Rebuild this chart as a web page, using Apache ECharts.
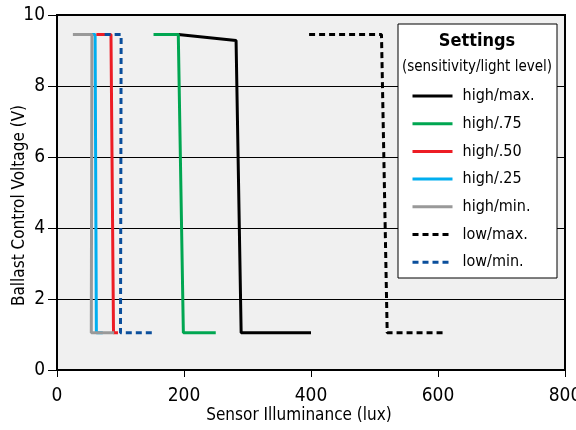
<!DOCTYPE html>
<html>
<head>
<meta charset="utf-8">
<script src="https://cdn.jsdelivr.net/npm/echarts@6/dist/echarts.min.js"></script>
<style>
  html, body { margin: 0; padding: 0; background: #fff; }
  #chart { width: 576px; height: 430px; }
</style>
</head>
<body>
<div id="chart"></div>
<script>
// [lux, volts]
var highMax = [[191, 9.45], [282, 9.28], [290, 1.05], [400, 1.05]];
var high75  = [[152, 9.45], [191, 9.45], [199, 1.05], [250, 1.05]];
var high50  = [[62, 9.45], [85, 9.45], [89, 1.05], [96, 1.05]];
var high25  = [[55, 9.45], [60, 9.45], [62, 1.05], [72, 1.05]];
var highMin = [[25, 9.45], [55, 9.45], [54, 1.05], [90, 1.05]];
var lowMax  = [[397, 9.45], [511, 9.45], [520, 1.05], [612, 1.05]];
var lowMin  = [[75, 9.45], [101, 9.45], [100, 1.05], [151, 1.05]];

var seriesNames = ['high/max.', 'high/.75', 'high/.50', 'high/.25', 'high/min.', 'low/max.', 'low/min.'];
var seriesData = [highMax, high75, high50, high25, highMin, lowMax, lowMin];
var colors = ['#000000', '#00a651', '#ed1c24', '#00aeef', '#999999', '#000000', '#0b4f9c'];
var dashed = [false, false, false, false, false, true, true];
var zs = [2, 2, 3, 2, 4, 5, 5];

var font = '"DejaVu Sans Condensed", "Liberation Sans", sans-serif';

var series = seriesNames.map(function (n, i) {
    return {
        name: n,
        type: 'line',
        data: seriesData[i],
        symbol: 'none',
        z: zs[i],
        lineStyle: {
            color: colors[i],
            width: 3,
            type: dashed[i] ? [6, 4] : 'solid'
        },
        itemStyle: { color: colors[i] }
    };
});

var chart = echarts.init(document.getElementById('chart'));
chart.setOption({
    animation: false,
    grid: {
        left: 57, right: 11, top: 15, bottom: 60,
        outerBoundsMode: 'none',
        show: true,
        backgroundColor: '#f0f0f0',
        borderColor: '#000',
        borderWidth: 2
    },
    xAxis: {
        type: 'value',
        min: 0, max: 800, interval: 200,
        name: 'Sensor Illuminance (lux)',
        nameLocation: 'middle',
        nameGap: 37,
        nameMoveOverlap: false,
        nameTextStyle: { fontFamily: font, fontSize: 17, color: '#000', padding: [0, 24, 0, 0] },
        axisLine: { lineStyle: { color: '#000', width: 2 } },
        axisTick: { length: 7, lineStyle: { color: '#000' } },
        axisLabel: { fontFamily: font, fontSize: 19, color: '#000', margin: 17 },
        splitLine: { show: false }
    },
    yAxis: {
        type: 'value',
        min: 0, max: 10, interval: 2,
        name: 'Ballast Control Voltage (V)',
        nameLocation: 'middle',
        nameGap: 29,
        nameMoveOverlap: false,
        nameTextStyle: { fontFamily: font, fontSize: 17, color: '#000', padding: [0, 26, 0, 0] },
        axisLine: { show: true, lineStyle: { color: '#000', width: 2 } },
        axisTick: { show: true, length: 9, lineStyle: { color: '#000' } },
        axisLabel: { fontFamily: font, fontSize: 19, color: '#000', margin: 12 },
        splitLine: { show: true, lineStyle: { color: '#000', width: 1 } }
    },
    legend: {
        orient: 'vertical',
        left: 411,
        top: 88,
        padding: 0,
        itemWidth: 40,
        itemHeight: 16,
        itemGap: 11.7,
        data: seriesNames,
        itemStyle: { opacity: 0 },
        lineStyle: { width: 3 },
        textStyle: { fontFamily: font, fontSize: 16, color: '#000', padding: [0, 0, 0, 5], lineHeight: 16 }
    },
    graphic: [
        {
            type: 'rect', z: 3,
            shape: { x: 398, y: 24, width: 159, height: 254 },
            style: { fill: '#fff', stroke: '#000', lineWidth: 1 }
        },
        {
            type: 'text', z: 4,
            style: { x: 477, y: 41, text: 'Settings', fill: '#000',
                     font: 'bold 18px ' + font, textAlign: 'center', textVerticalAlign: 'middle' }
        },
        {
            type: 'text', z: 4,
            style: { x: 477, y: 67, text: '(sensitivity/light level)', fill: '#000',
                     font: '15px ' + font, textAlign: 'center', textVerticalAlign: 'middle' }
        }
    ],
    series: series
});
</script>
</body>
</html>
